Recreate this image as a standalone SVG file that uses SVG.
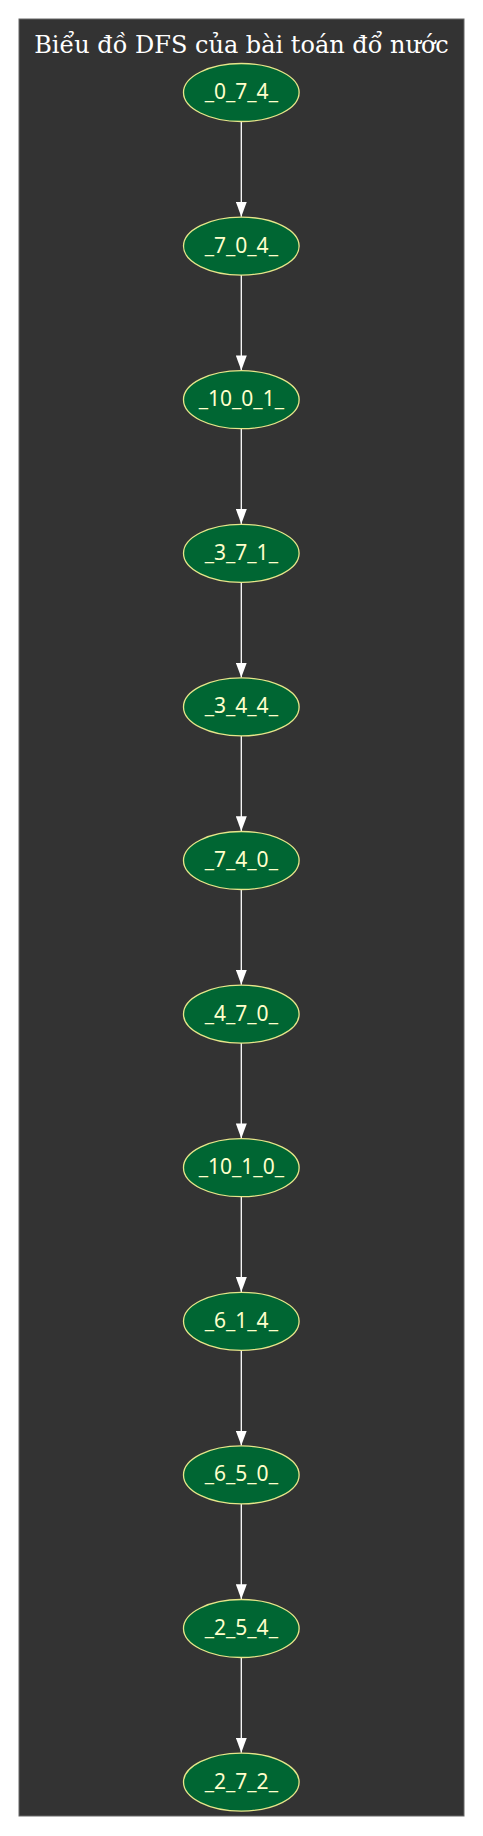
<svg xmlns="http://www.w3.org/2000/svg" width="483" height="1836" viewBox="0 0 483 1836">
<style>
.node ellipse{fill:#006633;stroke:#e6e68a;stroke-width:1.3}
.node text{fill:#ffffcc;font-family:"Noto Sans","Open Sans",sans-serif;font-size:21px;text-anchor:middle}
.edge{stroke:#ffffff;stroke-width:1.3;fill:none;marker-end:url(#arr)}
.title{fill:#ffffff;font-family:"DejaVu Serif",serif;font-size:24px;text-anchor:middle}
</style>
<defs>
<marker id="arr" markerUnits="userSpaceOnUse" markerWidth="15" markerHeight="11" refX="15" refY="5.5" orient="auto" viewBox="0 0 15 11">
<path d="M0,0 L15,5.5 L0,11 z" fill="#ffffff"/>
</marker>
</defs>
<rect width="483" height="1836" fill="#ffffff"/>
<rect x="19" y="19" width="445" height="1797" fill="#333333" stroke="#666666" stroke-width="1"/>
<text class="title" x="241.5" y="52.5">Biểu đồ DFS của bài toán đổ nước</text>
<g id="edges">
<path class="edge" d="M241.3,121.5 V216.8"/>
<path class="edge" d="M241.3,275.1 V370.4"/>
<path class="edge" d="M241.3,428.7 V524"/>
<path class="edge" d="M241.3,582.3 V677.6"/>
<path class="edge" d="M241.3,735.9 V831.2"/>
<path class="edge" d="M241.3,889.5 V984.8"/>
<path class="edge" d="M241.3,1043.1 V1138.4"/>
<path class="edge" d="M241.3,1196.7 V1292"/>
<path class="edge" d="M241.3,1350.3 V1445.6"/>
<path class="edge" d="M241.3,1503.9 V1599.2"/>
<path class="edge" d="M241.3,1657.5 V1752.8"/>
</g>
<g id="n0" class="node"><ellipse cx="241.3" cy="92.5" rx="57.8" ry="29"/><text x="241.3" y="99">_0_7_4_</text></g>
<g id="n1" class="node"><ellipse cx="241.3" cy="246.1" rx="57.8" ry="29"/><text x="241.3" y="252.6">_7_0_4_</text></g>
<g id="n2" class="node"><ellipse cx="241.3" cy="399.7" rx="57.8" ry="29"/><text x="241.3" y="406.2">_10_0_1_</text></g>
<g id="n3" class="node"><ellipse cx="241.3" cy="553.3" rx="57.8" ry="29"/><text x="241.3" y="559.8">_3_7_1_</text></g>
<g id="n4" class="node"><ellipse cx="241.3" cy="706.9" rx="57.8" ry="29"/><text x="241.3" y="713.4">_3_4_4_</text></g>
<g id="n5" class="node"><ellipse cx="241.3" cy="860.5" rx="57.8" ry="29"/><text x="241.3" y="867">_7_4_0_</text></g>
<g id="n6" class="node"><ellipse cx="241.3" cy="1014.1" rx="57.8" ry="29"/><text x="241.3" y="1020.6">_4_7_0_</text></g>
<g id="n7" class="node"><ellipse cx="241.3" cy="1167.7" rx="57.8" ry="29"/><text x="241.3" y="1174.2">_10_1_0_</text></g>
<g id="n8" class="node"><ellipse cx="241.3" cy="1321.3" rx="57.8" ry="29"/><text x="241.3" y="1327.8">_6_1_4_</text></g>
<g id="n9" class="node"><ellipse cx="241.3" cy="1474.9" rx="57.8" ry="29"/><text x="241.3" y="1481.4">_6_5_0_</text></g>
<g id="n10" class="node"><ellipse cx="241.3" cy="1628.5" rx="57.8" ry="29"/><text x="241.3" y="1635">_2_5_4_</text></g>
<g id="n11" class="node"><ellipse cx="241.3" cy="1782.1" rx="57.8" ry="29"/><text x="241.3" y="1788.6">_2_7_2_</text></g>
</svg>
